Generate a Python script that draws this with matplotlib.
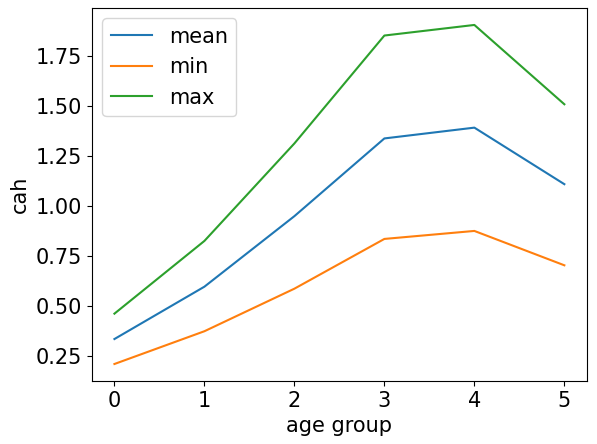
import matplotlib
matplotlib.use('Agg')
import matplotlib.pyplot as plt

age_groups = [0, 1, 2, 3, 4, 5]
mean_vals = [0.333, 0.595, 0.948, 1.337, 1.391, 1.108]
min_vals = [0.208, 0.372, 0.585, 0.834, 0.874, 0.702]
max_vals = [0.460, 0.824, 1.312, 1.852, 1.905, 1.508]

plt.rcParams['font.size'] = 15
fig, ax = plt.subplots(figsize=(5.97, 4.44), dpi=100)
ax.plot(age_groups, mean_vals, label='mean')
ax.plot(age_groups, min_vals, label='min')
ax.plot(age_groups, max_vals, label='max')
ax.set_xlabel('age group')
ax.set_ylabel('cah')
ax.legend(loc='upper left')
plt.subplots_adjust(left=0.154, right=0.983, top=0.982, bottom=0.142)
plt.savefig('out.png')
